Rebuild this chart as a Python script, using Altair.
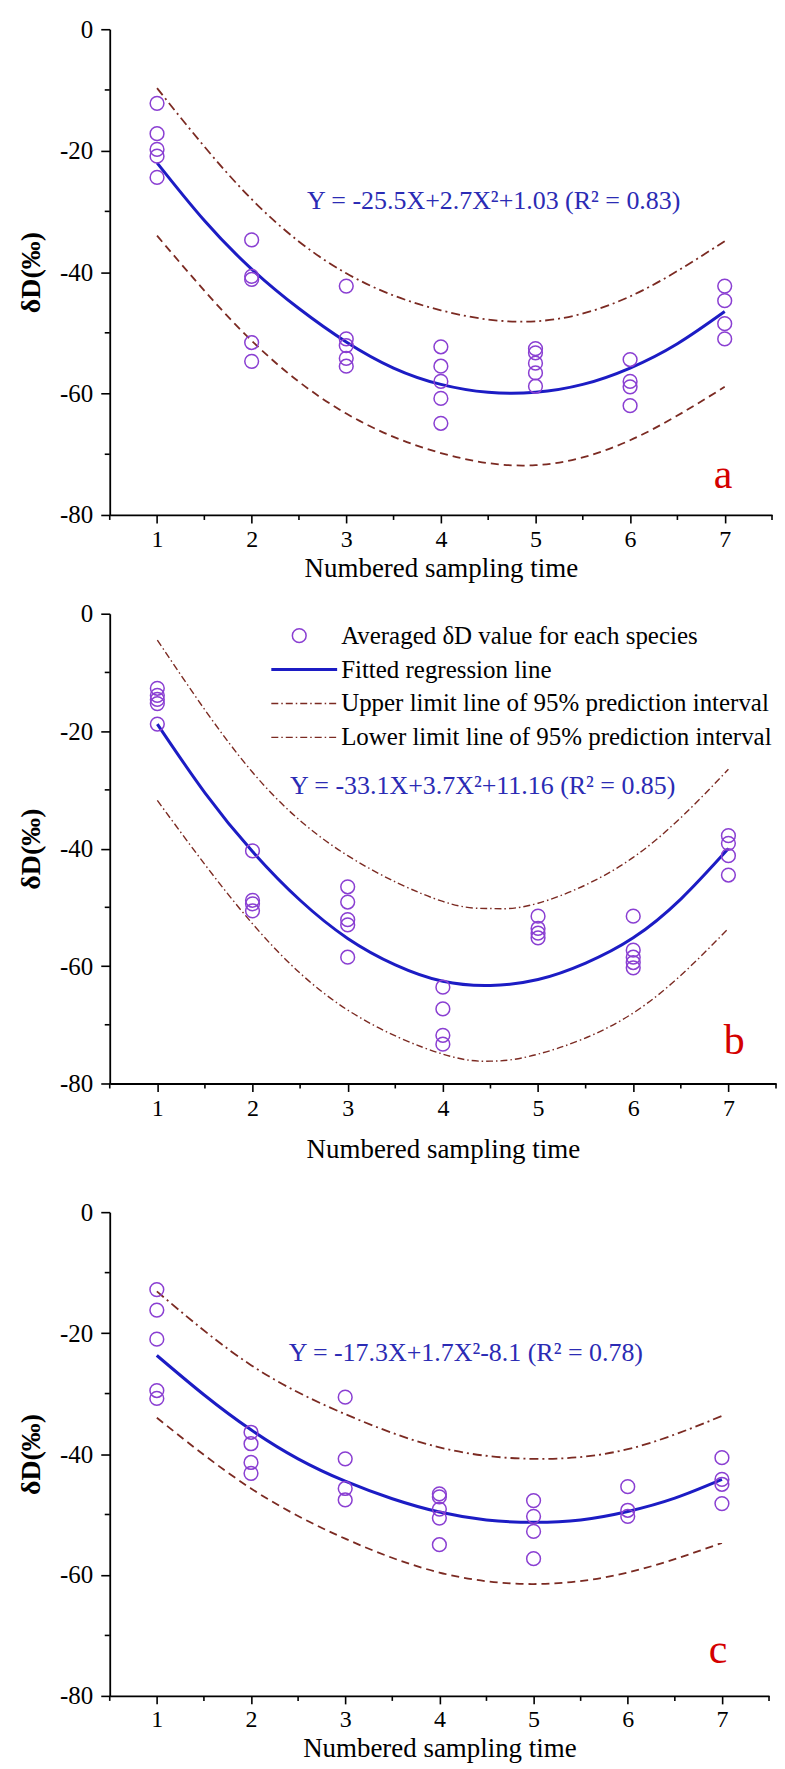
import altair as alt
import pandas as pd

# ---------------- data ----------------
X_TICKS = [1, 2, 3, 4, 5, 6, 7]
X_MINOR = [0.5, 1.5, 2.5, 3.5, 4.5, 5.5, 6.5, 7.5]
Y_TICKS = [0, -20, -40, -60, -80]
Y_MINOR = [-10, -30, -50, -70]

# panel a
A_PT_X = [1, 1, 1, 1, 1, 2, 2, 2, 2, 2, 3, 3, 3, 3, 3, 4, 4, 4, 4, 4, 5, 5, 5, 5, 5, 6, 6, 6, 6, 7, 7, 7, 7]
A_PT_Y = [-12.2, -17.2, -19.8, -20.9, -24.4,
          -34.7, -40.7, -41.2, -51.6, -54.7,
          -42.3, -51.0, -52.1, -54.2, -55.5,
          -52.3, -55.5, -58.0, -60.8, -64.9,
          -52.6, -53.3, -55.0, -56.6, -58.8,
          -54.4, -58.0, -58.9, -62.0,
          -42.3, -44.7, -48.5, -51.0]
# panel b
B_PT_X = [1, 1, 1, 1, 1, 2, 2, 2, 2, 3, 3, 3, 3, 3, 4, 4, 4, 4, 5, 5, 5, 5, 6, 6, 6, 6, 6, 7, 7, 7, 7]
B_PT_Y = [-12.7, -13.9, -14.6, -15.3, -18.8,
          -40.4, -48.8, -49.4, -50.6,
          -46.5, -49.1, -52.1, -53.0, -58.5,
          -63.6, -67.3, -71.8, -73.3,
          -51.5, -53.6, -54.4, -55.2,
          -51.5, -57.3, -58.5, -59.4, -60.3,
          -37.8, -39.1, -41.2, -44.5]
# panel c
C_PT_X = [1, 1, 1, 1, 1, 2, 2, 2, 2, 3, 3, 3, 3, 4, 4, 4, 4, 4, 5, 5, 5, 5, 6, 6, 6, 7, 7, 7, 7]
C_PT_Y = [-12.8, -16.2, -21.0, -29.5, -30.8,
          -36.4, -38.3, -41.4, -43.2,
          -30.6, -40.8, -45.7, -47.6,
          -46.6, -47.1, -49.1, -50.6, -55.0,
          -47.7, -50.3, -52.8, -57.3,
          -45.4, -49.3, -50.3,
          -40.6, -44.2, -45.0, -48.2]

# fitted regression lines (read at half steps)
FIT_X = [1, 1.5, 2, 2.5, 3, 3.5, 4, 4.5, 5, 5.5, 6, 6.5, 7]
A_FIT = [-22.0, -31.5, -39.5, -46.0, -51.5, -55.8, -58.5, -59.8, -59.8, -58.5, -55.8, -51.8, -46.5]
B_FIT = [-18.8, -30.5, -40.5, -48.8, -55.3, -59.8, -62.6, -63.3, -62.3, -59.5, -55.2, -48.6, -40.0]
C_FIT = [-23.7, -30.2, -36.0, -40.8, -44.5, -47.4, -49.6, -50.9, -51.3, -50.9, -49.5, -47.3, -44.2]

# 95% prediction interval limits
A_LIM_X = [1, 2, 3, 4, 5, 6, 7]
A_UP = [-9.7, -28.0, -40.2, -46.3, -48.1, -44.0, -34.9]
A_LO = [-34.0, -51.3, -63.3, -69.8, -71.8, -67.7, -58.9]
B_LIM_X = [1, 2, 3, 4, 4.5, 5, 6, 7]
B_UP = [-4.5, -27.0, -41.2, -49.0, -50.2, -49.3, -41.5, -26.5]
B_LO = [-31.8, -52.8, -67.5, -75.0, -76.2, -75.0, -68.0, -53.6]
C_LIM_X = [1, 2, 3, 4, 5, 6, 7]
C_UP = [-13.1, -25.3, -33.4, -38.9, -40.8, -39.2, -33.7]
C_LO = [-34.0, -45.7, -54.0, -59.6, -61.5, -59.6, -54.7]

EQUATIONS = ["Y = -25.5X+2.7X²+1.03 (R² = 0.83)",
             "Y = -33.1X+3.7X²+11.16 (R² = 0.85)",
             "Y = -17.3X+1.7X²-8.1 (R² = 0.78)"]
LETTERS = ["a", "b", "c"]
LEGEND = ["Averaged δD value for each species",
          "Fitted regression line",
          "Upper limit line of 95% prediction interval",
          "Lower limit line of 95% prediction interval"]

# ---------------- styling ----------------
SERIF = "Liberation Serif"
PURPLE = "#8a3fd2"
BLUE = "#1c1cc4"
EQBLUE = "#2b2bb4"
MAROON = "#7b2a22"
RED = "#d40000"
DASHDOT = [9, 4, 2, 4]
DASHED = [8, 5]
FINE_DASHDOT = [7, 3, 1.5, 3]


def panel(px, py, fit, limx, up, lo, up_dash, lo_dash, lim_w, eq, eq_pos,
          letter, let_pos, w, h, title_y, label_pad, legend=False):
    xs = alt.Scale(domain=[0.5, 7.5], nice=False, zero=False)
    ys = alt.Scale(domain=[-80, 0], nice=False, zero=False)
    X = alt.X("x:Q", scale=xs,
              axis=alt.Axis(values=X_TICKS, title="Numbered sampling time",
                            labelExpr="'' + datum.value", titleY=title_y,
                            titleBaseline="alphabetic",
                            labelFont=SERIF, titleFont=SERIF,
                            labelFontSize=24, titleFontSize=27,
                            titleFontWeight="normal", labelPadding=label_pad,
                            tickSize=8))
    Y = alt.Y("y:Q", scale=ys,
              axis=alt.Axis(values=Y_TICKS, title="δD(‰)",
                            labelExpr="'' + datum.value",
                            labelFont=SERIF, titleFont=SERIF,
                            labelFontSize=25, titleFontSize=28,
                            titleFontWeight="bold", titlePadding=14,
                            labelPadding=8, tickSize=9))

    layers = []
    layers.append(alt.Chart(pd.DataFrame({"x": X_MINOR})).mark_rule(
        color="black", strokeWidth=1.6).encode(x=X, y=alt.value(h), y2=alt.value(h + 5)))
    layers.append(alt.Chart(pd.DataFrame({"y": Y_MINOR})).mark_rule(
        color="black", strokeWidth=1.6).encode(y=Y, x=alt.value(0), x2=alt.value(-5)))
    layers.append(alt.Chart(pd.DataFrame({"x": limx, "y": up})).mark_line(
        color=MAROON, strokeWidth=lim_w, strokeDash=up_dash, interpolate="natural").encode(x=X, y=Y))
    layers.append(alt.Chart(pd.DataFrame({"x": limx, "y": lo})).mark_line(
        color=MAROON, strokeWidth=lim_w, strokeDash=lo_dash, interpolate="natural").encode(x=X, y=Y))
    layers.append(alt.Chart(pd.DataFrame({"x": FIT_X, "y": fit})).mark_line(
        color=BLUE, strokeWidth=3, interpolate="natural").encode(x=X, y=Y))
    layers.append(alt.Chart(pd.DataFrame({"x": px, "y": py})).mark_point(
        shape="circle", filled=False, size=190, strokeWidth=1.5, color=PURPLE,
        opacity=1).encode(x=X, y=Y))
    layers.append(alt.Chart(pd.DataFrame({"t": [eq]})).mark_text(
        font=SERIF, fontSize=26, color=EQBLUE, align="center", baseline="alphabetic").encode(
        x=alt.value(eq_pos[0]), y=alt.value(eq_pos[1]), text="t:N"))
    layers.append(alt.Chart(pd.DataFrame({"t": [letter]})).mark_text(
        font=SERIF, fontSize=42, color=RED, align="center", baseline="alphabetic").encode(
        x=alt.value(let_pos[0]), y=alt.value(let_pos[1]), text="t:N"))

    if legend:
        rows = [22, 56, 90, 124]
        lx0, lx1, tx = 162, 228, 232
        layers.append(alt.Chart(pd.DataFrame({"t": [LEGEND[0]]})).mark_point(
            shape="circle", filled=False, size=190, strokeWidth=1.5, color=PURPLE,
            opacity=1).encode(x=alt.value(190), y=alt.value(rows[0])))
        layers.append(alt.Chart(pd.DataFrame({"t": [LEGEND[1]]})).mark_rule(
            color=BLUE, strokeWidth=3).encode(x=alt.value(lx0), x2=alt.value(lx1), y=alt.value(rows[1])))
        for r in (2, 3):
            layers.append(alt.Chart(pd.DataFrame({"t": [LEGEND[r]]})).mark_rule(
                color=MAROON, strokeWidth=lim_w, strokeDash=FINE_DASHDOT).encode(
                x=alt.value(lx0), x2=alt.value(lx1), y=alt.value(rows[r])))
        for r in range(4):
            layers.append(alt.Chart(pd.DataFrame({"t": [LEGEND[r]]})).mark_text(
                font=SERIF, fontSize=25, color="black", align="left", baseline="middle").encode(
                x=alt.value(tx), y=alt.value(rows[r]), text="t:N"))

    return alt.layer(*layers).properties(width=w, height=h)


pa = panel(A_PT_X, A_PT_Y, A_FIT, A_LIM_X, A_UP, A_LO, DASHDOT, DASHED, 1.8,
           EQUATIONS[0], (385, 180), LETTERS[0], (615, 460), 664, 487, 62, 5)
pb = panel(B_PT_X, B_PT_Y, B_FIT, B_LIM_X, B_UP, B_LO, FINE_DASHDOT, FINE_DASHDOT, 1.4,
           EQUATIONS[1], (374, 181), LETTERS[1], (626, 441), 668, 471, 74, 5, legend=True)
pc = panel(C_PT_X, C_PT_Y, C_FIT, C_LIM_X, C_UP, C_LO, DASHDOT, DASHED, 1.8,
           EQUATIONS[2], (357, 149), LETTERS[2], (610, 452), 661, 485, 61, 4)

top = alt.vconcat(pa, pb, spacing=20)
chart = alt.vconcat(top, pc, spacing=38).properties(
    padding={"left": 9, "top": 7, "right": 0, "bottom": 0}
).configure_view(stroke=None).configure_axis(
    labelColor="black", titleColor="black",
    domainColor="black", tickColor="black",
    domainWidth=1.8, tickWidth=1.6, grid=False,
)

chart.save("out.html", embed_options={"renderer": "svg", "actions": False})
